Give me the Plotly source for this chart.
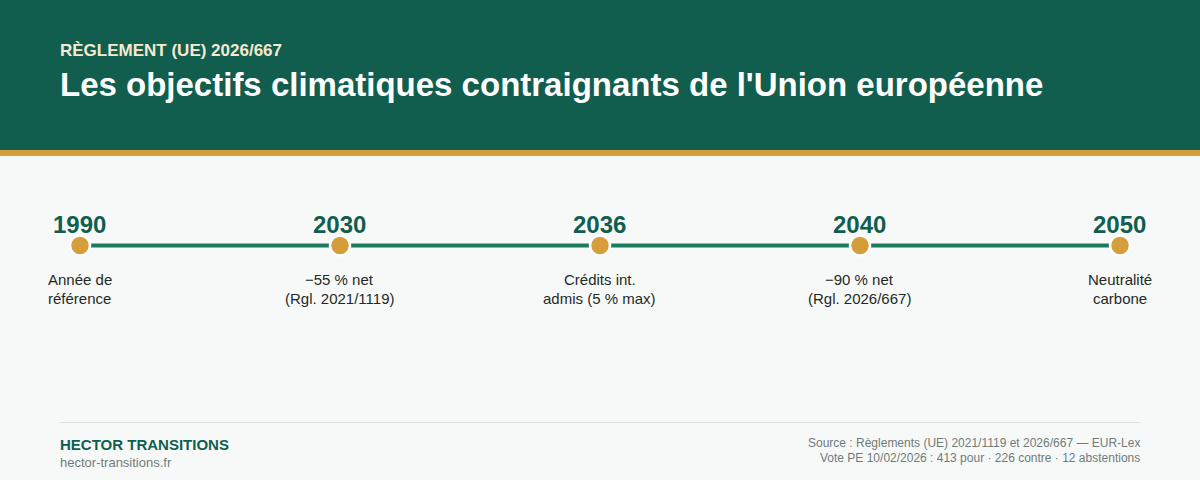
import plotly.graph_objects as go

years = ["1990", "2030", "2036", "2040", "2050"]
labels_line1 = ["Année de", "−55 % net", "Crédits int.", "−90 % net", "Neutralité"]
labels_line2 = ["référence", "(Rgl. 2021/1119)", "admis (5 % max)", "(Rgl. 2026/667)", "carbone"]
level = [0, 0, 0, 0, 0]

GREEN = "#115e4f"
LINE = "#1a7a5e"
GOLD = "#d69e3a"
BG = "#f7f9f8"
FONT = "Liberation Sans, Arial, sans-serif"
W, H = 1200, 480

fig = go.Figure()
fig.add_trace(go.Scatter(x=years, y=level, mode="lines", line=dict(color=LINE, width=4),
                         hoverinfo="skip", showlegend=False))
fig.add_trace(go.Scatter(x=years, y=level, mode="markers", hoverinfo="skip", showlegend=False,
                         marker=dict(size=20, color=GOLD, line=dict(color="#ffffff", width=2.5))))


def txt(x, y, s, size, color, anchor="left", bold=False):
    fig.add_annotation(xref="paper", yref="paper", x=x / W, y=1 - y / H, text=f"<b>{s}</b>" if bold else s,
                       showarrow=False, xanchor=anchor, yanchor="middle", align=anchor,
                       font=dict(family=FONT, size=size, color=color), borderpad=0, borderwidth=0)


def rect(y0, y1, color):
    fig.add_shape(type="rect", xref="paper", yref="paper", x0=0, x1=1, y0=1 - y1 / H, y1=1 - y0 / H,
                  fillcolor=color, line_width=0, layer="below")


rect(0, 150, GREEN)
rect(150, 156, GOLD)
fig.add_shape(type="line", xref="paper", yref="paper", x0=60 / W, x1=1140 / W, y0=1 - 422.5 / H, y1=1 - 422.5 / H,
              line=dict(color="#dde3e1", width=1), layer="below")

txt(60, 50.5, "RÈGLEMENT (UE) 2026/667", 17, "#f5e9cf", bold=True)
txt(60, 84, "Les objectifs climatiques contraignants de l'Union européenne", 33, "#ffffff", bold=True)

for i, yr in enumerate(years):
    cx = 79.5 + 260 * i
    txt(cx, 224.5, yr, 24, GREEN, anchor="center", bold=True)
    txt(cx, 279, labels_line1[i], 15, "#1f2a27", anchor="center")
    txt(cx, 298, labels_line2[i], 15, "#1f2a27", anchor="center")

txt(60, 444.5, "HECTOR TRANSITIONS", 15, GREEN, bold=True)
txt(60, 462.5, "hector-transitions.fr", 13, "#6f7b78")
txt(1139.5, 443, "Source : Règlements (UE) 2021/1119 et 2026/667 — EUR-Lex", 12, "#6f7b78", anchor="right")
txt(1139.5, 458, "Vote PE 10/02/2026 : 413 pour · 226 contre · 12 abstentions", 12, "#6f7b78", anchor="right")

fig.update_layout(
    width=W, height=H, autosize=False, margin=dict(l=0, r=0, t=0, b=0),
    paper_bgcolor=BG, plot_bgcolor="rgba(0,0,0,0)", showlegend=False,
    xaxis=dict(type="category", categoryorder="array", categoryarray=years, visible=False,
               range=[-80 / 260, 1120 / 260], fixedrange=True),
    yaxis=dict(visible=False, range=[-234.5, 245.5], fixedrange=True),
)
fig.write_html("out.html", config=dict(displayModeBar=False),
               post_script="document.body.style.margin='0';document.documentElement.style.overflow='hidden';")
